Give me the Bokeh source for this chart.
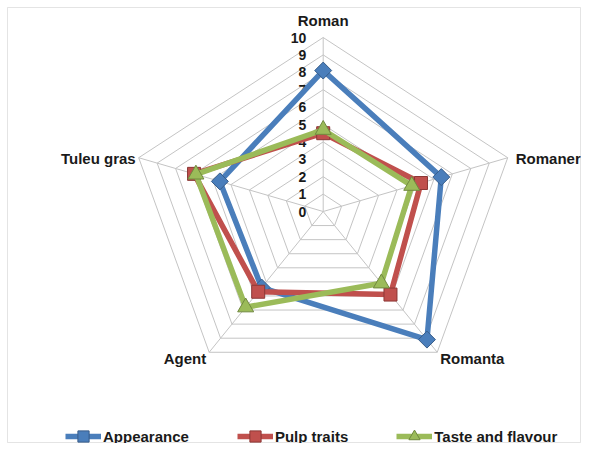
import numpy as np
from bokeh.plotting import figure
from bokeh.models import Range1d, Legend, LegendItem, BoxAnnotation
from bokeh.core.properties import value
from bokeh.embed import file_html
from bokeh.resources import INLINE

# ---- data ----
categories = ["Roman", "Romaner", "Romanta", "Agent", "Tuleu gras"]
series_names = ["Appearance", "Pulp traits", "Taste and flavour"]
appearance = [8.1, 6.4, 9.1, 5.4, 5.6]
pulp_traits = [4.5, 5.3, 5.9, 5.7, 7.0]
taste_flavour = [4.7, 4.8, 5.1, 6.8, 6.9]
scale_ticks = [0, 1, 2, 3, 4, 5, 6, 7, 8, 9, 10]

# ---- layout ----
W, H = 581, 443
cx_px, cy_px = 322.7, 211.0
ux, uy = 19.4, 17.4
FONT = value("Liberation Sans")

xr = Range1d(-cx_px / ux, (W - cx_px) / ux)
yr = Range1d(-(H - cy_px) / uy, cy_px / uy)
p = figure(width=W, height=H, x_range=xr, y_range=yr,
           output_backend="svg", toolbar_location=None,
           x_axis_location=None, y_axis_location=None, min_border=0)
p.grid.visible = False
p.outline_line_color = None
p.background_fill_color = "white"
p.border_fill_color = "white"

# chart border (pixel frame converted to data units)
def px_x(px):
    return (px - cx_px) / ux

def px_y(py):
    return (cy_px - py) / uy

p.add_layout(BoxAnnotation(left=px_x(7), right=px_x(580), top=px_y(7), bottom=px_y(442),
                           fill_alpha=0, line_color="#a6a6a6", line_width=1))

n = len(categories)
ang = np.deg2rad(90 - 72 * np.arange(n))
ca, sa = np.cos(ang), np.sin(ang)
rmax = scale_ticks[-1]

# grid rings
ring_xs, ring_ys = [], []
for k in scale_ticks[1:]:
    ring_xs.append(list(k * ca) + [k * ca[0]])
    ring_ys.append(list(k * sa) + [k * sa[0]])
p.multi_line(ring_xs, ring_ys, line_color="#c4c4c4", line_width=1)
# spokes
p.segment(x0=[0] * n, y0=[0] * n, x1=list(rmax * ca), y1=list(rmax * sa),
          line_color="#c4c4c4", line_width=1)

# scale labels
p.text(x=[0] * len(scale_ticks), y=scale_ticks, text=[str(t) for t in scale_ticks],
       text_align="right", text_baseline="middle", x_offset=-17,
       text_font=FONT, text_font_style="bold", text_font_size="14px",
       text_color="#1a1a1a")

# category labels
label_cfg = [
    ("center", "middle", 0, -17),
    ("left", "middle", 8, 1),
    ("left", "middle", 3, 6),
    ("right", "middle", -3, 6),
    ("right", "middle", -3, 1),
]
for i, (al, bl, xo, yo) in enumerate(label_cfg):
    p.text(x=[rmax * ca[i]], y=[rmax * sa[i]], text=[categories[i]],
           text_align=al, text_baseline=bl, x_offset=xo, y_offset=yo,
           text_font=FONT, text_font_style="bold", text_font_size="15px",
           text_color="#1a1a1a")

styles = [
    (appearance, "#4A7EBB", "#385D8A", "square", 12, np.pi / 4),
    (pulp_traits, "#C0504D", "#8C3836", "square", 13, 0.0),
    (taste_flavour, "#9BBB59", "#71893F", "triangle", 16, 0.0),
]
items = []
for name, (vals, col, dark, mk, sz, rot) in zip(series_names, styles):
    v = np.array(vals, dtype=float)
    xs = list(v * ca) + [v[0] * ca[0]]
    ys = list(v * sa) + [v[0] * sa[0]]
    lr = p.line(xs, ys, line_color=col, line_width=5.5, line_join="round")
    sr = p.scatter(list(v * ca), list(v * sa), marker=mk, size=sz, angle=rot,
                   fill_color=col, line_color=dark, line_width=1)
    items.append(LegendItem(label=name, renderers=[lr, sr]))

legend = Legend(items=items, orientation="horizontal", location=(65, -7),
                glyph_width=36, glyph_height=28, label_standoff=2, spacing=48,
                padding=0, margin=0, border_line_alpha=0, background_fill_alpha=0,
                label_text_font="Liberation Sans", label_text_font_style="bold",
                label_text_font_size="15px", label_text_color="#1a1a1a")
p.add_layout(legend)

open("out.html", "w").write(file_html(p, INLINE))
